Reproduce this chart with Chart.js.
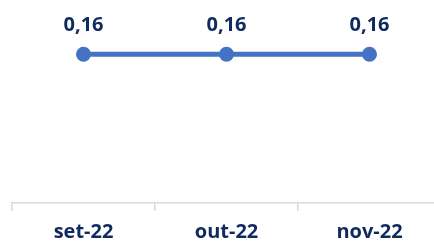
<!DOCTYPE html>
<html><head><meta charset="utf-8">
<script src="https://cdn.jsdelivr.net/npm/chart.js@4.4.0/dist/chart.umd.min.js"></script>
<style>html,body{margin:0;padding:0;overflow:hidden;background:#fff;width:434px;height:243px}#wrap{position:absolute;left:0;top:0;width:460px;height:253px}</style>
</head><body><div id="wrap"><canvas id="c" width="460" height="253"></canvas></div>
<script>
const categories = ["set-22", "out-22", "nov-22"];
const values = [0.16, 0.16, 0.16];
const valueLabels = ["0,16", "0,16", "0,16"];

const labelPlugin = {
  id: 'valLabels',
  afterDatasetsDraw(chart) {
    const ctx = chart.ctx;
    const meta = chart.getDatasetMeta(0);
    ctx.save();
    ctx.font = 'bold 20px "Open Sans", sans-serif';
    ctx.fillStyle = '#0f2a5e';
    ctx.textAlign = 'center';
    ctx.textBaseline = 'alphabetic';
    meta.data.forEach((p, i) => {
      ctx.fillText(valueLabels[i], p.x, p.y - 23);
    });
    ctx.restore();
  }
};

new Chart(document.getElementById('c'), {
  type: 'line',
  data: {
    labels: categories,
    datasets: [{
      data: values,
      borderColor: '#4472c4',
      backgroundColor: '#4472c4',
      borderWidth: 5,
      pointRadius: 7.5,
      pointHoverRadius: 7.5,
      pointBackgroundColor: '#4472c4',
      pointBorderWidth: 0,
      tension: 0
    }]
  },
  options: {
    responsive: false,
    animation: false,
    devicePixelRatio: 1,
    layout: { padding: { left: 12, right: 19, top: 17, bottom: 0 } },
    plugins: { legend: { display: false }, tooltip: { enabled: false } },
    scales: {
      x: {
        offset: true,
        grid: { offset: true, drawOnChartArea: false, drawTicks: true, tickLength: 8, color: '#d9d9d9', lineWidth: 1.5 },
        border: { display: true, color: '#d9d9d9', width: 1.5 },
        ticks: { font: { family: '"Open Sans", sans-serif', size: 20, weight: 'bold' }, color: '#0f2a5e', padding: 9 }
      },
      y: {
        display: false,
        min: 0,
        max: 0.2
      }
    }
  },
  plugins: [labelPlugin]
});
</script></body></html>
